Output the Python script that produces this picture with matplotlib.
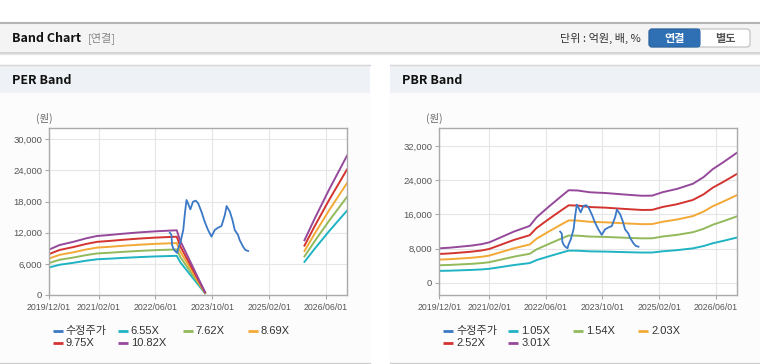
import matplotlib.pyplot as plt
import numpy as np
import pandas as pd
from matplotlib.patches import Rectangle, FancyBboxPatch
from matplotlib.ticker import FuncFormatter

plt.rcParams['font.family'] = ['Noto Sans CJK KR', 'DejaVu Sans']

# ---- data ----
# adjusted close price (수정주가)
price_dates = ['2022-10-03', '2022-10-17', '2022-10-22', '2022-11-01', '2022-11-15', '2022-12-05',
               '2022-12-13', '2023-01-03', '2023-01-26', '2023-02-09', '2023-02-23', '2023-03-08',
               '2023-03-28', '2023-04-20', '2023-05-13', '2023-06-03', '2023-07-01', '2023-07-29',
               '2023-08-27', '2023-09-25', '2023-10-23', '2023-11-21', '2023-12-20', '2024-01-18',
               '2024-02-02', '2024-03-01', '2024-03-23', '2024-04-12', '2024-05-10', '2024-05-24',
               '2024-06-22', '2024-07-12', '2024-08-05']
price = [12000, 11550, 9630, 8990, 8500, 8100,
         8900, 10270, 12520, 15730, 18300, 17660,
         16500, 17980, 18170, 17660, 16050, 14120,
         12520, 11240, 12520, 12970, 13290, 15410,
         17140, 16050, 14450, 12520, 11560, 10590,
         9310, 8670, 8480]

# EPS used for the PER band (gap = no estimate)
eps_dates = ['2019-12-01', '2020-03-01', '2020-07-01', '2020-10-15', '2021-01-15', '2021-05-01',
             '2021-09-01', '2022-01-15', '2022-06-01', '2022-12-01', '2023-01-01', '2023-08-01',
             '2023-09-01', '2025-12-01', '2026-03-01', '2026-07-01', '2026-12-01']
eps = [808, 890, 949, 1009, 1050, 1068,
       1092, 1115, 1134, 1152, 960, 50,
       np.nan, 975, 1370, 1880, 2480]
per_multiples = [6.55, 7.62, 8.69, 9.75, 10.82]

# BPS used for the PBR band
bps_dates = ['2019-12-01', '2020-03-01', '2020-06-01', '2020-09-01', '2020-12-01', '2021-02-01',
             '2021-05-01', '2021-09-01', '2022-01-15', '2022-03-15', '2022-07-01', '2022-10-15',
             '2022-12-15', '2023-03-01', '2023-06-15', '2023-11-01', '2024-04-01', '2024-09-01',
             '2024-12-01', '2025-03-01', '2025-07-01', '2025-11-15', '2026-02-15', '2026-05-05',
             '2026-08-01', '2026-12-01']
bps = [2690, 2740, 2820, 2900, 3020, 3150,
       3500, 3990, 4430, 5100, 5950, 6750,
       7200, 7180, 7040, 6980, 6870, 6770,
       6780, 7050, 7300, 7700, 8220, 8840,
       9360, 10130]
pbr_multiples = [1.05, 1.54, 2.03, 2.52, 3.01]

date_ticks = ['2019-12-01', '2021-02-01', '2022-06-01', '2023-10-01', '2025-02-01', '2026-06-01']
date_labels = ['2019/12/01', '2021/02/01', '2022/06/01', '2023/10/01', '2025/02/01', '2026/06/01']

price_color = '#3b78c6'
band_colors = ['#1fb3c3', '#92b95a', '#f2a935', '#d33430', '#96499b']

W, H = 760, 364
fig = plt.figure(figsize=(W / 100, H / 100), dpi=100)

# background / page chrome drawn in pixel coordinates
bg = fig.add_axes([0, 0, 1, 1], zorder=0)
bg.set_xlim(0, W)
bg.set_ylim(H, 0)
bg.axis('off')

bg.add_patch(Rectangle((0, 23), W, 29, facecolor='#f4f4f4', edgecolor='none'))
bg.plot([0, W], [22.5, 22.5], color='#b4b4b4', lw=1.5)
bg.plot([0, W], [52.5, 52.5], color='#c9c9c9', lw=1.2)
bg.plot([0, W], [53.5, 53.5], color='#e8e8e8', lw=1)
bg.text(12, 38.5, 'Band Chart', fontsize=9, fontweight='bold', va='center', color='#111')
bg.text(88, 38.5, '[연결]', fontsize=8, va='center', color='#888')
bg.text(641, 38.5, '단위 : 억원, 배, %', fontsize=8, va='center', ha='right', color='#333')
bg.add_patch(FancyBboxPatch((649, 29), 101, 18, boxstyle='round,pad=0,rounding_size=3',
                            facecolor='white', edgecolor='#bdbdbd', lw=0.8))
bg.add_patch(FancyBboxPatch((649, 29), 51, 18, boxstyle='round,pad=0,rounding_size=3',
                            facecolor='#2f6fb3', edgecolor='#2a62a0', lw=0.8))
bg.add_patch(Rectangle((690, 29), 10, 18, facecolor='#2f6fb3', edgecolor='none'))
bg.text(674.5, 38.5, '연결', fontsize=8, fontweight='bold', ha='center', va='center', color='white')
bg.text(725, 38.5, '별도', fontsize=8, fontweight='bold', ha='center', va='center', color='#555')

for px0, title in [(0, 'PER Band'), (390, 'PBR Band')]:
    bg.add_patch(Rectangle((px0, 64), 370, 299, facecolor='#fcfcfd', edgecolor='none'))
    bg.add_patch(Rectangle((px0, 64.5), 370, 28, facecolor='#eef1f6', edgecolor='none'))
    bg.plot([px0, px0 + 370], [64.5, 64.5], color='#d6d6d6', lw=1)
    bg.plot([px0, px0 + 370], [362.5, 362.5], color='#cfcfcf', lw=1)
    bg.text(px0 + 12, 80.5, title, fontsize=9, fontweight='bold', va='center', color='#111')


def px_axes(x0, y0, x1, y1):
    return fig.add_axes([x0 / W, (H - y1) / H, (x1 - x0) / W, (y1 - y0) / H], zorder=2)


def style_axes(ax, yticks, ylim):
    ax.set_facecolor('white')
    ax.set_xlim(pd.Timestamp('2019-12-01'), pd.Timestamp('2026-12-01'))
    ax.set_ylim(*ylim)
    ax.set_yticks(yticks)
    ax.yaxis.set_major_formatter(FuncFormatter(lambda v, p: f'{int(v):,}'))
    ax.set_xticks(pd.to_datetime(date_ticks))
    ax.set_xticklabels(date_labels)
    ax.grid(True, color='#e6e6e6', lw=0.8)
    ax.set_axisbelow(True)
    for s in ax.spines.values():
        s.set_color('#aaaaaa')
        s.set_linewidth(1)
    ax.tick_params(axis='both', direction='out', length=3, width=0.8, color='#aaaaaa',
                   labelcolor='#555555')
    ax.tick_params(axis='x', labelsize=6.3, pad=3)
    ax.tick_params(axis='y', labelsize=6.8, pad=2)
    for lab in ax.get_xticklabels() + ax.get_yticklabels():
        lab.set_family('Liberation Sans')


# ---- PER band ----
ax1 = px_axes(49, 128, 347, 295)
e_dates = pd.to_datetime(eps_dates)
for mult, col in zip(per_multiples, band_colors):
    ax1.plot(e_dates, np.array(eps) * mult, color=col, lw=1.4)
ax1.plot(pd.to_datetime(price_dates), price, color=price_color, lw=1.3)
style_axes(ax1, np.arange(0, 30001, 6000), (0, 32170))

# ---- PBR band ----
ax2 = px_axes(439.3, 128, 737.3, 295)
b_dates = pd.to_datetime(bps_dates)
for mult, col in zip(pbr_multiples, band_colors):
    ax2.plot(b_dates, np.array(bps) * mult, color=col, lw=1.4)
ax2.plot(pd.to_datetime(price_dates), price, color=price_color, lw=1.3)
style_axes(ax2, np.arange(0, 32001, 8000), (-2810, 36210))

for px0 in (44, 434):
    bg.text(px0, 118, '(원)', fontsize=7.5, ha='center', va='center', color='#666')


# ---- legends ----
def draw_legend(x0, labels, colors):
    for i, (lab, col) in enumerate(zip(labels, colors)):
        x = x0 + (i % 4) * 65
        y = 330.7 + (i // 4) * 12.7
        bg.plot([x, x + 10], [y, y], color=col, lw=2, solid_capstyle='butt')
        bg.text(x + 13, y, lab, fontsize=8, va='center', color='#333',
                family=['Liberation Sans', 'Noto Sans CJK KR'])


draw_legend(52.7, ['수정주가'] + [f'{m:.2f}X' for m in per_multiples], [price_color] + band_colors)
draw_legend(443.3, ['수정주가'] + [f'{m:.2f}X' for m in pbr_multiples], [price_color] + band_colors)

fig.savefig('out.png', dpi=100)
